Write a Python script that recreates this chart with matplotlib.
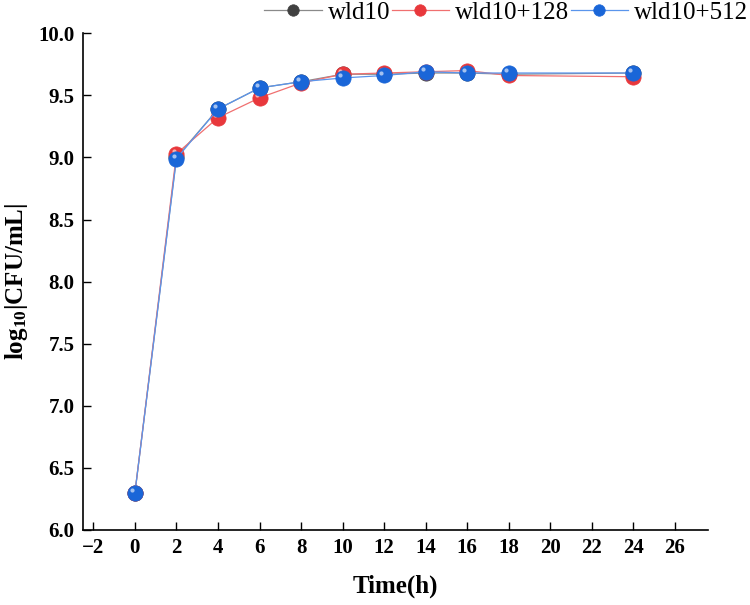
import numpy as np
import matplotlib
matplotlib.use('Agg')
import matplotlib.pyplot as plt
from matplotlib.transforms import ScaledTranslation

plt.rcParams['font.family'] = ['Liberation Serif', 'DejaVu Serif']
plt.rcParams['mathtext.fontset'] = 'custom'
plt.rcParams['mathtext.rm'] = 'Liberation Serif'
plt.rcParams['mathtext.bf'] = 'Liberation Serif:bold'

# data
time_h = [0, 2, 4, 6, 8, 10, 12, 14, 16, 18, 24]
wld10 = [6.30, 9.00, 9.39, 9.56, 9.61, 9.67, 9.67, 9.68, 9.68, 9.67, 9.68]
wld10_128 = [6.30, 9.03, 9.32, 9.48, 9.60, 9.67, 9.68, 9.69, 9.70, 9.66, 9.65]
wld10_512 = [6.30, 8.99, 9.39, 9.56, 9.61, 9.64, 9.66, 9.69, 9.68, 9.68, 9.68]

series = [
    ('wld10', wld10, '#8a8a8a', '#404040'),
    ('wld10+128', wld10_128, '#f07070', '#e8383c'),
    ('wld10+512', wld10_512, '#5a95ec', '#1a66d8'),
]

fig = plt.figure(figsize=(7.5, 6.05), dpi=100)
ax = fig.add_axes([0.1107, 0.124, 0.8333, 0.821])

# small offset used for the glossy highlight on each marker
hl = ScaledTranslation(-2.0 / 72, 2.0 / 72, fig.dpi_scale_trans)

handles = []
for name, vals, lc, mc in series:
    h, = ax.plot(time_h, vals, '-', color=lc, linewidth=0.9, marker='o',
                 markersize=11, markerfacecolor=mc, markeredgecolor=mc,
                 markeredgewidth=0.5, label=name)
    ax.plot(time_h, vals, 'o', markersize=3.0, color='white', alpha=0.6,
            markeredgewidth=0, transform=ax.transData + hl)
    handles.append(h)

ax.set_xlim(-2.5, 27.6)
ax.set_ylim(6.0, 10.0)
ax.set_xticks(np.arange(-2, 27, 2))
ax.set_yticks(np.arange(6.0, 10.01, 0.5))
ax.set_yticklabels([f'{v:.1f}' for v in np.arange(6.0, 10.01, 0.5)])
ax.xaxis.set_major_formatter(plt.FuncFormatter(lambda v, p: f'{int(v)}'.replace('-', '\u2212')))

ax.spines['top'].set_visible(False)
ax.spines['right'].set_visible(False)
for s in ('left', 'bottom'):
    ax.spines[s].set_linewidth(1.2)
ax.tick_params(direction='in', length=6, width=1.0, labelsize=15, pad=6)
for lab in ax.get_xticklabels() + ax.get_yticklabels():
    lab.set_fontweight('bold')

ax.set_xlabel('Time(h)', fontsize=18, fontweight='bold', labelpad=12)
ax.set_ylabel(r'$\mathbf{log_{10}|CFU/mL|}$', fontsize=18, labelpad=6)

leg = fig.legend(handles=handles, loc='center right', bbox_to_anchor=(0.998, 0.979), ncol=3,
                 frameon=False, fontsize=18, handlelength=2.3, handletextpad=0.25,
                 columnspacing=0.05, borderaxespad=0, borderpad=0, markerscale=0.75)

fig.savefig('out.png', dpi=100)
